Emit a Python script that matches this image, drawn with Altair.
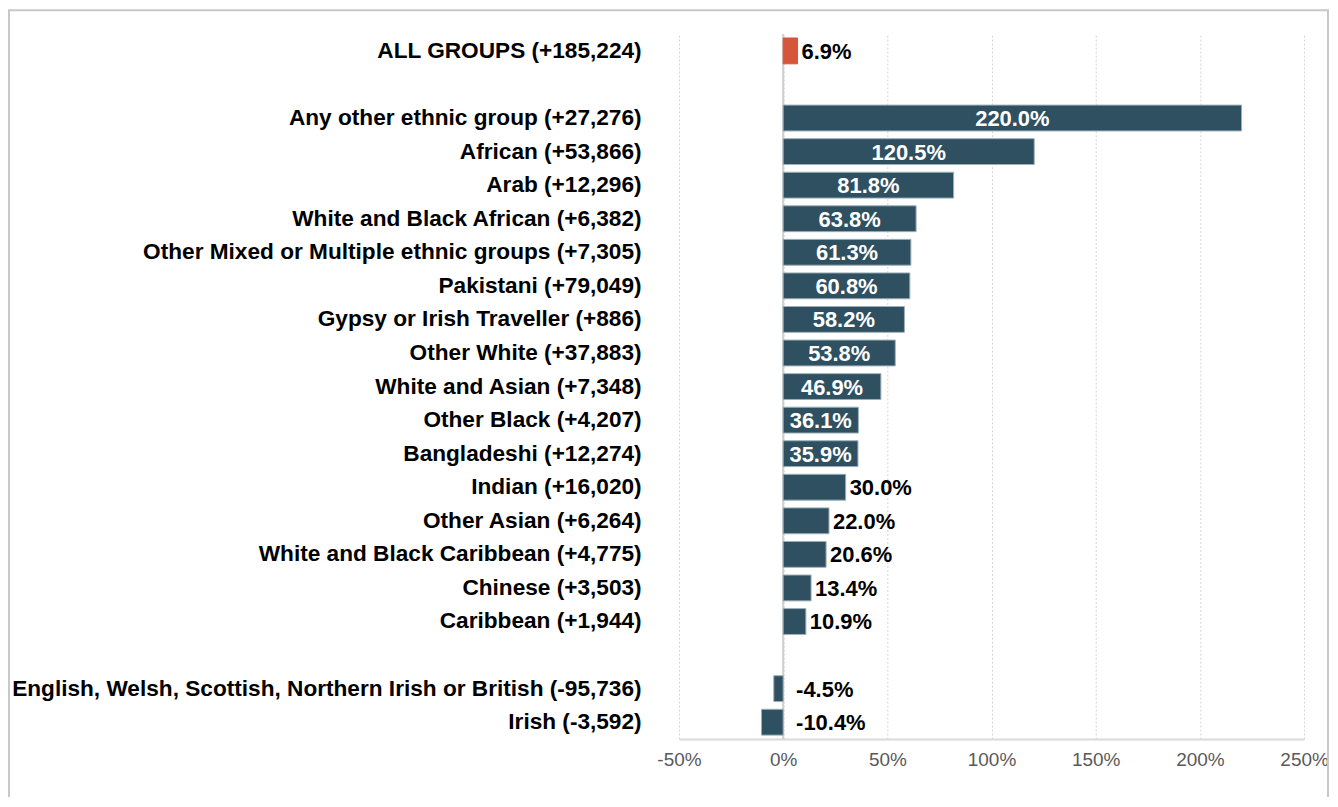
import altair as alt
import pandas as pd

# ---- data ----
groups = [
    "ALL GROUPS",
    "Any other ethnic group",
    "African",
    "Arab",
    "White and Black African",
    "Other Mixed or Multiple ethnic groups",
    "Pakistani",
    "Gypsy or Irish Traveller",
    "Other White",
    "White and Asian",
    "Other Black",
    "Bangladeshi",
    "Indian",
    "Other Asian",
    "White and Black Caribbean",
    "Chinese",
    "Caribbean",
    "English, Welsh, Scottish, Northern Irish or British",
    "Irish",
]
changes = [185224, 27276, 53866, 12296, 6382, 7305, 79049, 886, 37883, 7348,
           4207, 12274, 16020, 6264, 4775, 3503, 1944, -95736, -3592]
pct = [6.9, 220.0, 120.5, 81.8, 63.8, 61.3, 60.8, 58.2, 53.8, 46.9,
       36.1, 35.9, 30.0, 22.0, 20.6, 13.4, 10.9, -4.5, -10.4]
kinds = ["total"] + ["group"] * 18
x_ticks = [-50, 0, 50, 100, 150, 200, 250]

labels = [f"{g} ({c:+,})" for g, c in zip(groups, changes)]
# row order, with two empty spacer rows
order = [labels[0], "gap1"] + labels[1:17] + ["gap2"] + labels[17:]

df = pd.DataFrame({"label": labels, "pct": pct, "kind": kinds})
one = pd.DataFrame({"k": [0]})

FONT = "Liberation Sans, Arial, sans-serif"

x_scale = alt.Scale(domain=[-50, 250], nice=False, zero=False)
y_scale = alt.Scale(domain=order, paddingInner=0.23, paddingOuter=0.115)

x_enc_axis = alt.Axis(
    values=x_ticks,
    labelExpr="datum.value + '%'",
    labelFlush=False,
    grid=True,
    gridDash=[2, 2],
    gridColor="#D4D4D4",
    gridWidth=1,
    domainColor="#D9D9D9",
    domainWidth=2,
    ticks=False,
    labelFontSize=19,
    labelColor="#595959",
    labelFont=FONT,
    labelPadding=12,
    title=None,
)
y_axis = alt.Axis(
    labelExpr="indexof(datum.label, 'gap') == 0 ? '' : datum.label",
    labelFontSize=22.7,
    labelFontWeight="bold",
    labelColor="#000000",
    labelFont=FONT,
    labelPadding=38,
    labelLimit=800,
    ticks=False,
    domain=False,
    grid=False,
    title=None,
)

base = alt.Chart(df).transform_calculate(
    txt="replace(format(datum.pct, '.1f'), '\u2212', '-') + '%'"
)

frame = alt.Chart(one).mark_rect(
    filled=False, stroke="#C8C8C8", strokeWidth=2
).encode(
    x=alt.value(-672), x2=alt.value(651), y=alt.value(-24), y2=alt.value(800)
)

zero = alt.Chart(one).mark_rule(color="#CFCFCF", strokeWidth=2).encode(
    x=alt.datum(0, scale=x_scale)
)

bars = base.mark_bar(strokeWidth=1).encode(
    x=alt.X("pct:Q", scale=x_scale, axis=x_enc_axis),
    y=alt.Y("label:N", scale=y_scale, axis=y_axis, sort=order),
    color=alt.Color(
        "kind:N",
        scale=alt.Scale(domain=["total", "group"], range=["#D6563B", "#2E5061"]),
        legend=None,
    ),
    stroke=alt.condition(
        alt.datum.kind == "total", alt.value("#D6563B"), alt.value("#9DB0B9")
    ),
)

TEXT_SIZE = 22

inside = base.transform_filter(alt.datum.pct >= 35).transform_calculate(
    mid="datum.pct / 2"
).mark_text(
    color="white", fontWeight="bold", fontSize=TEXT_SIZE, font=FONT,
    align="center", baseline="middle", dy=1
).encode(
    x=alt.X("mid:Q", scale=x_scale),
    y=alt.Y("label:N", scale=y_scale, sort=order),
    text="txt:N",
)

outside = base.transform_filter(
    (alt.datum.pct >= 0) & (alt.datum.pct < 35)
).mark_text(
    color="black", fontWeight="bold", fontSize=TEXT_SIZE, font=FONT,
    align="left", baseline="middle", dx=4, dy=1
).encode(
    x=alt.X("pct:Q", scale=x_scale),
    y=alt.Y("label:N", scale=y_scale, sort=order),
    text="txt:N",
)

negative = base.transform_filter(alt.datum.pct < 0).mark_text(
    color="black", fontWeight="bold", fontSize=TEXT_SIZE, font=FONT,
    align="left", baseline="middle", dx=13, dy=1
).encode(
    x=alt.datum(0, scale=x_scale),
    y=alt.Y("label:N", scale=y_scale, sort=order),
    text="txt:N",
)

chart = alt.layer(frame, zero, bars, inside, outside, negative).properties(
    width=627,
    height=707,
    autosize=alt.AutoSizeParams(type="none"),
    padding={"left": 673, "top": 25, "right": 26, "bottom": 57},
    background="white",
).configure_view(strokeWidth=0)

chart.save("out.html", embed_options={"renderer": "svg", "actions": False})
